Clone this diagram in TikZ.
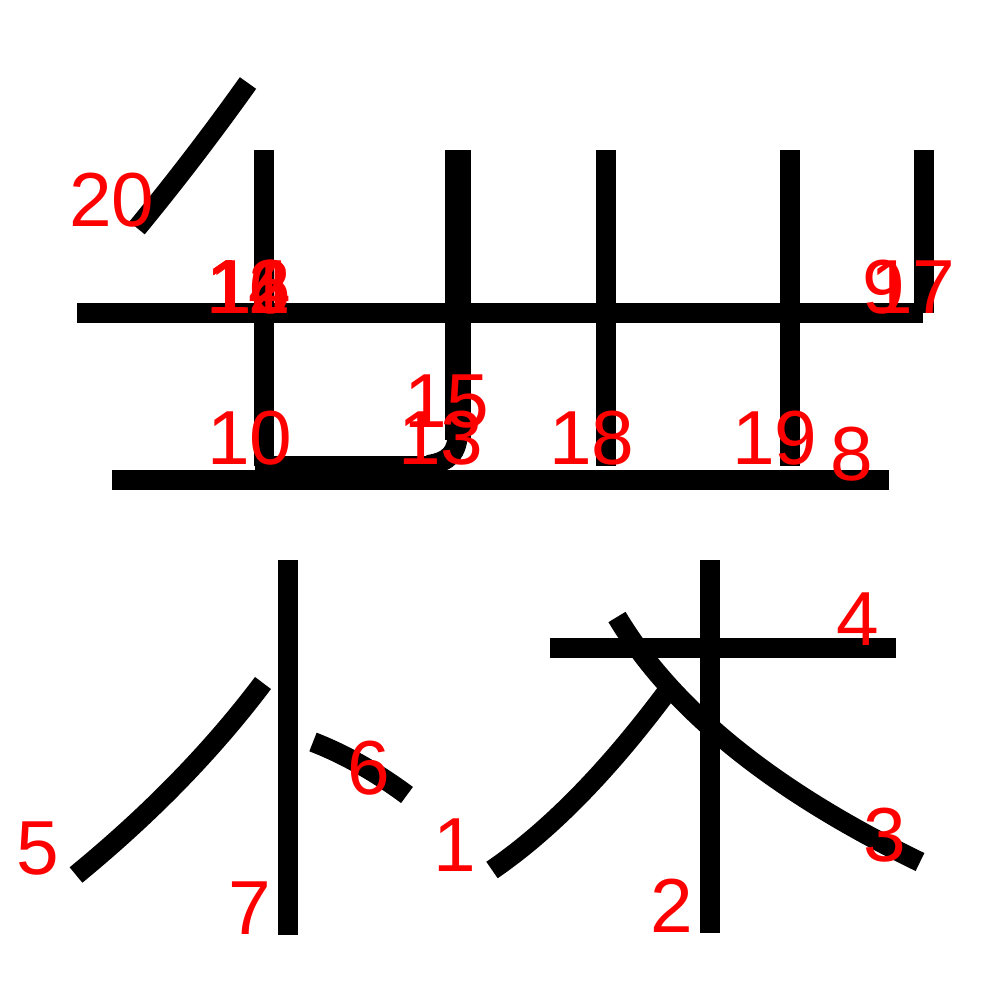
\documentclass[tikz,border=0pt]{standalone}
\usepackage{fontspec}
\setmainfont{Liberation Sans}
\tikzset{brush/.style={line width=2mm},
  num/.style={text=red, inner sep=0pt, font=\fontsize{21.8}{26}\selectfont}}
\begin{document}
\begin{tikzpicture}[x=0.1mm,y=-0.1mm]
			\useasboundingbox (0,0) rectangle (1000,1000);
			\draw[brush] (137,228) .. controls (174,183) and (211,135) .. (248,83);
			\draw[brush] (77,313) -- (923,313);
			\draw[brush] (924,150) -- (924,313);
			\draw[brush] (264,150) -- (264,466);
			\draw[brush,line width=2.6mm] (458,150) -- (458,440);
			\draw[brush] (458,430) .. controls (458,454) and (448,462) .. (428,465);
			\draw[brush] (606,150) -- (606,466);
			\draw[brush] (790,150) -- (790,466);
			\draw[brush] (255,466) -- (435,466);
			\draw[brush] (112,480) -- (889,480);

			\draw[brush] (288,560) -- (288,935);
			\draw[brush] (76,875) .. controls (149,815) and (211,752) .. (263,683);
			\draw[brush] (313,742) .. controls (344,754) and (376,772) .. (407,795);
			\draw[brush] (550,648) -- (896,648);
			\draw[brush] (710,560) -- (710,933);
			\draw[brush] (492,870) .. controls (549,831) and (607,772) .. (666,693);
			\draw[brush] (617,617) .. controls (672,709) and (773,791) .. (920,862);

			\node[num] (n1) at (455,845) {1};
			\node[num] (n2) at (672,906) {2};
			\node[num] (n3) at (885,835) {3};
			\node[num] (n4) at (858,619) {4};
			\node[num] (n5) at (38,849) {5};
			\node[num] (n6) at (369,768) {6};
			\node[num] (n7) at (250,908) {7};
			\node[num] (n8) at (852,454) {8};
			\node[num] (n9) at (884,287) {9};
			\node[num] (n10) at (250,438) {10};
			\node[num] (n11) at (249,287) {11};
			\node[num] (n12) at (249,287) {12};
			\node[num] (n13) at (441,438) {13};
			\node[num] (n14) at (249,287) {14};
			\node[num] (n15) at (447,402) {15};
			\node[num] (n16) at (249,287) {16};
			\node[num] (n17) at (913,287) {17};
			\node[num] (n18) at (592,438) {18};
			\node[num] (n19) at (775,438) {19};
			\node[num] (n20) at (112,200) {20};
		\end{tikzpicture}
\end{document}
